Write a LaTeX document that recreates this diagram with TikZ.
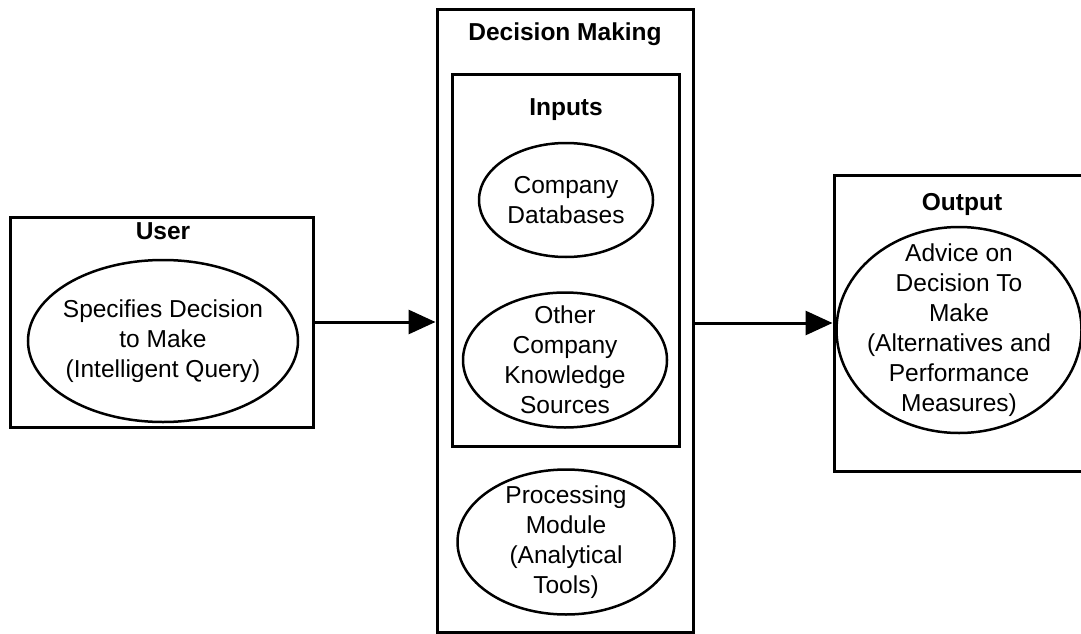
\documentclass[tikz,border=0pt]{standalone}
\usepackage{fontspec}
\setmainfont{Liberation Sans}
\usetikzlibrary{shapes.geometric,arrows.meta}
\begin{document}
\begin{tikzpicture}[x=1pt,y=-1pt,%
% common options for the frames:
frame/.style = {draw, rectangle, line width=3pt, inner sep=0},
% common options for the ellipses:
blob/.style = {ellipse, draw, line width=2.5pt, inner sep=0},
% texts:
txt/.style = {align=center, inner sep=0, font=\fontsize{24.5}{30}\selectfont},
head/.style = {anchor=base, inner sep=0, font=\fontsize{24.5}{30}\selectfont\bfseries},
flow/.style = {-{Triangle[length=27pt,width=24pt]}, line width=3pt}]
\useasboundingbox (0,0) rectangle (1081,634);
\node[frame, minimum width=303pt, minimum height=210pt] (U0) at (161.5,322) {};
\node[frame, minimum width=256pt, minimum height=622pt] (D0) at (565,321) {};
\node[frame, minimum width=227pt, minimum height=372pt] (I0) at (565.5,260) {};
\node[frame, minimum width=256pt, minimum height=296pt] (O0) at (962,323) {};
\node[head] (Ut) at (163,239) {User};
\node[head] (Dt) at (565,41) {Decision Making};
\node[head] (It) at (566,115) {Inputs};
\node[head] (Ot) at (962,210) {Output};
\node[blob, minimum width=270pt, minimum height=162pt] (U1) at (163,341) {};
\node[blob, minimum width=174pt, minimum height=114pt] (I1) at (566,200) {};
\node[blob, minimum width=204pt, minimum height=135pt] (I2) at (565,360) {};
\node[blob, minimum width=217pt, minimum height=145pt] (P1) at (566,542) {};
\node[blob, minimum width=245pt, minimum height=206pt] (O1) at (959,330) {};
\node[txt] (U1x) at (U1) {Specifies Decision\\to Make\\(Intelligent Query)};
\node[txt] (I1x) at (I1) {Company\\Databases};
\node[txt] (I2x) at (I2) {Other\\Company\\Knowledge\\Sources};
\node[txt] (P1x) at (P1) {Processing\\Module\\(Analytical\\Tools)};
\node[txt] (O1x) at (O1) {Advice on\\Decision To\\Make\\(Alternatives and\\Performance\\Measures)};
\draw[flow] (U0.east) -- (U0.east -| D0.west);
\draw[flow] (D0.east |- O0.west) -- (O0.west);
\end{tikzpicture}
\end{document}
